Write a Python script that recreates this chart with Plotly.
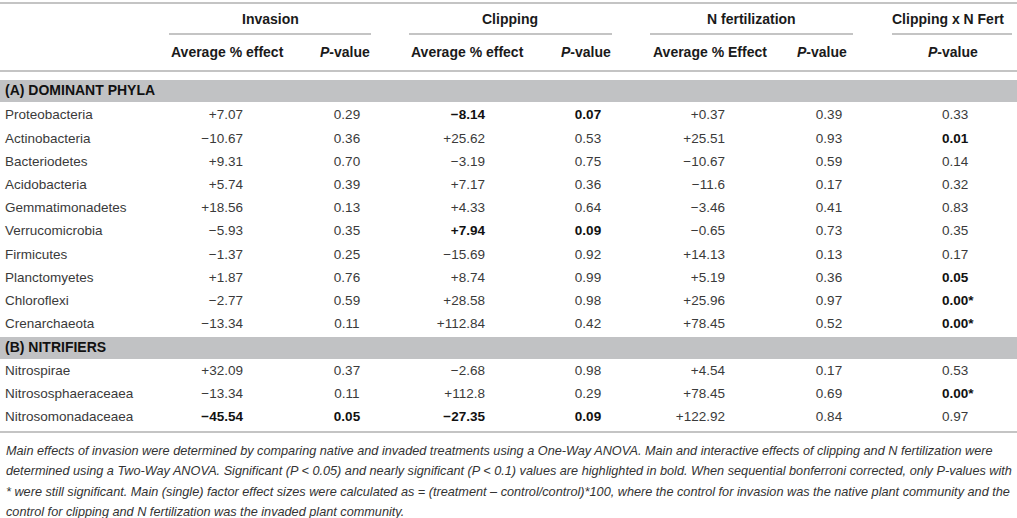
import plotly.graph_objects as go

# --------------------------------------------------
# Table data
# --------------------------------------------------
group_a = "(A) DOMINANT PHYLA"
group_b = "(B) NITRIFIERS"

taxa_a = [
    "Proteobacteria", "Actinobacteria", "Bacteriodetes", "Acidobacteria",
    "Gemmatimonadetes", "Verrucomicrobia", "Firmicutes", "Planctomyetes",
    "Chloroflexi", "Crenarchaeota",
]
taxa_b = ["Nitrospirae", "Nitrososphaeraceaea", "Nitrosomonadaceaea"]

inv_effect = ["+7.07", "−10.67", "+9.31", "+5.74", "+18.56", "−5.93", "−1.37",
              "+1.87", "−2.77", "−13.34", "+32.09", "−13.34", "−45.54"]
inv_p = ["0.29", "0.36", "0.70", "0.39", "0.13", "0.35", "0.25",
         "0.76", "0.59", "0.11", "0.37", "0.11", "0.05"]

clip_effect = ["−8.14", "+25.62", "−3.19", "+7.17", "+4.33", "+7.94", "−15.69",
               "+8.74", "+28.58", "+112.84", "−2.68", "+112.8", "−27.35"]
clip_p = ["0.07", "0.53", "0.75", "0.36", "0.64", "0.09", "0.92",
          "0.99", "0.98", "0.42", "0.98", "0.29", "0.09"]

nfert_effect = ["+0.37", "+25.51", "−10.67", "−11.6", "−3.46", "−0.65", "+14.13",
                "+5.19", "+25.96", "+78.45", "+4.54", "+78.45", "+122.92"]
nfert_p = ["0.39", "0.93", "0.59", "0.17", "0.41", "0.73", "0.13",
           "0.36", "0.97", "0.52", "0.17", "0.69", "0.84"]

cxn_p = ["0.33", "0.01", "0.14", "0.32", "0.83", "0.35", "0.17",
         "0.05", "0.00*", "0.00*", "0.53", "0.00*", "0.97"]

footnote = [
    "Main effects of invasion were determined by comparing native and invaded treatments using a One-Way ANOVA. "
    "Main and interactive effects of clipping and N fertilization were",
    "determined using a Two-Way ANOVA. Significant (P &lt; 0.05) and nearly significant (P &lt; 0.1) values are "
    "highlighted in bold. When sequential bonferroni corrected, only P-values with",
    "* were still significant. Main (single) factor effect sizes were calculated as = (treatment – control/control)*100, "
    "where the control for invasion was the native plant community and the",
    "control for clipping and N fertilization was the invaded plant community.",
]

# --------------------------------------------------
# Layout constants
# --------------------------------------------------
W, H = 1017, 518
FONT = "Liberation Sans"
PLAIN = "#3a3a3a"
BOLD = "#111111"
RULE = "#c4c4c4"
BAND = "#c1c2c4"
ROW0, PITCH = 116, 23.2
BODY_SIZE = 13.5

# row positions: 10 phyla, a band row, then 3 nitrifiers
row_y = [ROW0 + PITCH * i for i in range(len(taxa_a))]
band_b_y = ROW0 + PITCH * len(taxa_a)
row_y += [band_b_y + PITCH * (i + 1) for i in range(len(taxa_b))]
band_a_y = 91


def is_sig(p):
    return float(p.rstrip("*")) < 0.1


def fmt(values, sig):
    text = [f"<b>{v}</b>" if s else v for v, s in zip(values, sig)]
    colors = [BOLD if s else PLAIN for s in sig]
    return text, colors


fig = go.Figure()


def add_column(x, values, sig, position):
    text, colors = fmt(values, sig)
    fig.add_trace(
        go.Scatter(
            x=[x] * len(values),
            y=row_y,
            mode="text",
            text=text,
            textposition=position,
            textfont=dict(family=FONT, size=BODY_SIZE, color=colors),
            hoverinfo="skip",
            showlegend=False,
        )
    )


taxa = taxa_a + taxa_b
add_column(5, taxa, [False] * len(taxa), "middle right")

inv_sig = [is_sig(p) for p in inv_p]
clip_sig = [is_sig(p) for p in clip_p]
nfert_sig = [is_sig(p) for p in nfert_p]
cxn_sig = [is_sig(p) for p in cxn_p]

add_column(243, inv_effect, inv_sig, "middle left")
add_column(347, inv_p, inv_sig, "middle center")
add_column(485, clip_effect, clip_sig, "middle left")
add_column(588, clip_p, clip_sig, "middle center")
add_column(725, nfert_effect, nfert_sig, "middle left")
add_column(829, nfert_p, nfert_sig, "middle center")
add_column(942, cxn_p, cxn_sig, "middle right")

# group band labels
fig.add_trace(
    go.Scatter(
        x=[5, 5],
        y=[band_a_y, band_b_y],
        mode="text",
        text=[f"<b>{group_a}</b>", f"<b>{group_b}</b>"],
        textposition="middle right",
        textfont=dict(family=FONT, size=14, color=BOLD),
        hoverinfo="skip",
        showlegend=False,
    )
)

# --------------------------------------------------
# Header text
# --------------------------------------------------
pv = "<b><i>P</i>-value</b>"
headers = [
    (270, 19, "<b>Invasion</b>", "center"),
    (510, 19, "<b>Clipping</b>", "center"),
    (751, 19, "<b>N fertilization</b>", "center"),
    (948, 19, "<b>Clipping x N Fert</b>", "center"),
    (169, 52, "<b>Average % effect</b>", "left"),
    (372, 52, pv, "right"),
    (409, 52, "<b>Average % effect</b>", "left"),
    (613, 52, pv, "right"),
    (651, 52, "<b>Average % Effect</b>", "left"),
    (849, 52, pv, "right"),
    (953, 52, pv, "center"),
]
annotations = [
    dict(x=x, y=y, xref="x", yref="y", text=t, xanchor=a, yanchor="middle",
         showarrow=False, font=dict(family=FONT, size=14, color="#1a1a1a"))
    for x, y, t, a in headers
]
for i, line in enumerate(footnote):
    annotations.append(
        dict(x=4, y=451 + 20.3 * i, xref="x", yref="y", text=f"<i>{line}</i>",
             xanchor="left", yanchor="middle", showarrow=False,
             font=dict(family=FONT, size=12.7, color="#333333"))
    )

# --------------------------------------------------
# Rules and shaded bands
# --------------------------------------------------
shapes = [
    dict(type="rect", x0=0, x1=W, y0=80, y1=102, fillcolor=BAND, line_width=0, layer="below"),
    dict(type="rect", x0=0, x1=W, y0=337, y1=359, fillcolor=BAND, line_width=0, layer="below"),
]
for y in (3, 71, 432):
    shapes.append(dict(type="line", x0=0, x1=W, y0=y, y1=y, line=dict(color=RULE, width=2)))
for x0, x1 in ((169, 371), (409, 612), (650, 853), (892, 1012)):
    shapes.append(dict(type="line", x0=x0, x1=x1, y0=34, y1=34, line=dict(color=RULE, width=2)))

fig.update_layout(
    width=W,
    height=H,
    margin=dict(l=0, r=0, t=0, b=0),
    paper_bgcolor="white",
    plot_bgcolor="white",
    xaxis=dict(range=[0, W], visible=False, fixedrange=True),
    yaxis=dict(range=[H, 0], visible=False, fixedrange=True),
    shapes=shapes,
    annotations=annotations,
)

# the page body has a default 8px margin; drop it so the figure sits at the corner
fig.write_html(
    "out.html",
    config={"displayModeBar": False},
    post_script="document.body.style.margin='0';",
)
